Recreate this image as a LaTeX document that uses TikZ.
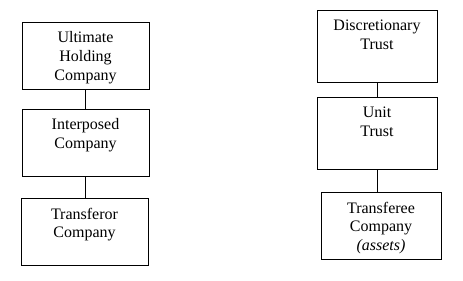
\documentclass[tikz,border=0pt]{standalone}
\usepackage{fontspec}
\setmainfont{Liberation Serif}
\usepackage{tikz}
\usetikzlibrary{positioning}
\tikzset{
  entity/.style={rectangle, draw=black, line width=0.75pt, inner sep=0pt, outer sep=0pt},
  link/.style={line width=0.75pt}
}
% top-aligned text inside a box of given width and height
\newcommand{\boxlines}[3]{\parbox[c][#2][t]{#1}{\centering\vspace*{7.4pt}#3}}

\begin{document}
\begin{tikzpicture}[x=0.75pt, y=-0.75pt,
  font=\fontsize{12pt}{13.9pt}\selectfont]
\useasboundingbox (0,0) rectangle (463,280);
% company side
\node[entity, anchor=north west] (uhc) at (22,22)
  {\boxlines{95.25pt}{50.25pt}{Ultimate\\Holding\\Company}};
\node[entity, below=15pt of uhc] (ipc)
  {\boxlines{95.25pt}{50.25pt}{Interposed\\Company}};
\node[entity, below=16.5pt of ipc, xshift=-0.75pt] (tfc)
  {\boxlines{95.25pt}{50.25pt}{Transferor\\Company}};
% trust side
\node[entity, anchor=north west] (dst) at (317,10)
  {\boxlines{90pt}{54pt}{Discretionary\\Trust}};
\node[entity, below=11.25pt of dst] (unt)
  {\boxlines{90pt}{54pt}{Unit\\Trust}};
\node[entity, below=17.25pt of unt, xshift=3pt] (tfe)
  {\boxlines{90pt}{50.25pt}{Transferee\\Company\\\textit{(assets)}}};
\draw[link] (uhc) -- (ipc);
\draw[link] (ipc.south) -- (ipc.south |- tfc.north);
\draw[link] (dst) -- (unt);
\draw[link] (unt.south) -- (unt.south |- tfe.north);
\end{tikzpicture}
\end{document}
